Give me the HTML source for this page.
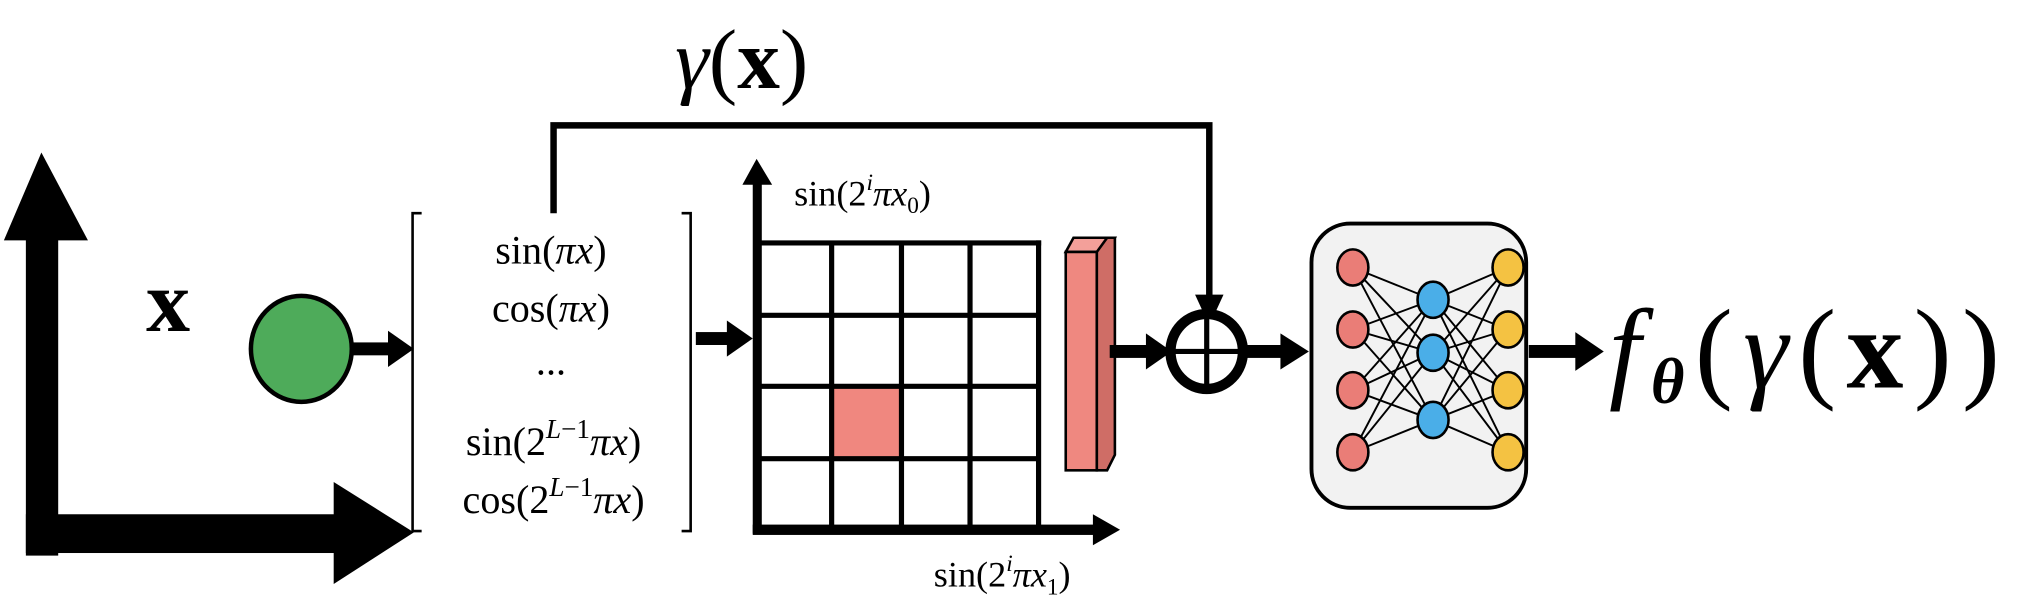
<!DOCTYPE html>
<html><head><meta charset="utf-8"><style>
html,body{margin:0;padding:0;background:#fff;}
svg{display:block;}
text{font-family:"Liberation Serif",serif;fill:#000;}
</style></head><body>
<svg width="2028" height="606" viewBox="0 0 1568 469" preserveAspectRatio="none" xmlns="http://www.w3.org/2000/svg">
<g>
  <rect x="20" y="180" width="25" height="250" fill="#000"/>
  <polygon points="32,118 3,186 68,186" fill="#000"/>
  <rect x="20" y="398" width="240" height="30" fill="#000"/>
  <polygon points="258,373 258,452 320,412" fill="#000"/>
</g>
<text x="113" y="256" font-size="68" font-weight="bold">x</text>
<ellipse cx="233" cy="270" rx="39" ry="41" fill="#4eab5a" stroke="#000" stroke-width="3.5"/>
<g>
  <rect x="272" y="265" width="30" height="10" fill="#000"/>
  <polygon points="300,256 300,284 320,270" fill="#000"/>
</g>
<g>
  <path d="M326,165 H319 V411 H326" fill="none" stroke="#000" stroke-width="2"/>
  <path d="M527,165 H534 V411 H527" fill="none" stroke="#000" stroke-width="2"/>
  <g font-size="31" text-anchor="middle">
    <text x="426" y="204">sin(<tspan font-style="italic">πx</tspan>)</text>
    <text x="426" y="249">cos(<tspan font-style="italic">πx</tspan>)</text>
    <text x="426" y="290">...</text>
    <text x="428" y="352">sin(2<tspan font-size="21" dy="-13" font-style="italic">L</tspan><tspan font-size="21">−1</tspan><tspan dy="13" font-style="italic">πx</tspan>)</text>
    <text x="428" y="397">cos(2<tspan font-size="21" dy="-13" font-style="italic">L</tspan><tspan font-size="21">−1</tspan><tspan dy="13" font-style="italic">πx</tspan>)</text>
  </g>
</g>
<g>
  <path d="M428,165 V97 H935 V240" fill="none" stroke="#000" stroke-width="5"/>
  <polygon points="924,228 946,228 935,252" fill="#000"/>
</g>
<text x="522" y="68" font-size="66"><tspan font-style="italic">γ</tspan>(<tspan font-weight="bold">x</tspan>)</text>
<g>
  <rect x="538" y="257" width="26" height="10" fill="#000"/>
  <polygon points="562,248 562,276 582,262" fill="#000"/>
</g>
<g>
  <rect x="643" y="299" width="54" height="56" fill="#f0877f"/>
  <g stroke="#000" stroke-width="4" fill="none">
    <line x1="585" y1="188" x2="805" y2="188"/>
    <line x1="585" y1="244" x2="803" y2="244"/>
    <line x1="585" y1="299" x2="803" y2="299"/>
    <line x1="585" y1="355" x2="803" y2="355"/>
    <line x1="643" y1="188" x2="643" y2="410"/>
    <line x1="697" y1="188" x2="697" y2="410"/>
    <line x1="750" y1="188" x2="750" y2="410"/>
    <line x1="803" y1="186" x2="803" y2="410"/>
  </g>
  <rect x="582" y="140" width="7" height="273" fill="#000"/>
  <polygon points="574,143 597,143 585,123" fill="#000"/>
  <rect x="582" y="406" width="265" height="8" fill="#000"/>
  <polygon points="845,398 845,422 866,410" fill="#000"/>
  <text x="614" y="159" font-size="28">sin(2<tspan font-size="18" dy="-12" font-style="italic">i</tspan><tspan dy="12" font-style="italic">πx</tspan><tspan font-size="18" dy="6">0</tspan><tspan dy="-6">)</tspan></text>
  <text x="722" y="454" font-size="28">sin(2<tspan font-size="18" dy="-12" font-style="italic">i</tspan><tspan dy="12" font-style="italic">πx</tspan><tspan font-size="18" dy="6">1</tspan><tspan dy="-6">)</tspan></text>
</g>
<g stroke="#000" stroke-width="2">
  <polygon points="824,195 830,184 862,184 856,195" fill="#f3a09a"/>
  <polygon points="848,195 856,184 862,184 862,352 856,364 848,364" fill="#cf6d66"/>
  <rect x="824" y="195" width="24" height="169" fill="#ef8880"/>
</g>
<g>
  <rect x="858" y="267" width="30" height="10" fill="#000"/>
  <polygon points="886,258 886,286 906,272" fill="#000"/>
</g>
<g>
  <ellipse cx="933" cy="272" rx="28" ry="29" fill="#fff" stroke="#000" stroke-width="8"/>
  <line x1="905" y1="272" x2="961" y2="272" stroke="#000" stroke-width="4"/>
  <line x1="933" y1="243" x2="933" y2="301" stroke="#000" stroke-width="4"/>
</g>
<g>
  <rect x="962" y="267" width="30" height="10" fill="#000"/>
  <polygon points="990,258 990,286 1012,272" fill="#000"/>
</g>
<g>
  <rect x="1014" y="173" width="166" height="220" rx="30" fill="#f2f2f2" stroke="#000" stroke-width="3"/>
  <g stroke="#000" stroke-width="1.5">
    <line x1="1046" y1="207" x2="1108" y2="232"/><line x1="1046" y1="207" x2="1108" y2="273"/><line x1="1046" y1="207" x2="1108" y2="325"/>
    <line x1="1046" y1="255" x2="1108" y2="232"/><line x1="1046" y1="255" x2="1108" y2="273"/><line x1="1046" y1="255" x2="1108" y2="325"/>
    <line x1="1046" y1="302" x2="1108" y2="232"/><line x1="1046" y1="302" x2="1108" y2="273"/><line x1="1046" y1="302" x2="1108" y2="325"/>
    <line x1="1046" y1="350" x2="1108" y2="232"/><line x1="1046" y1="350" x2="1108" y2="273"/><line x1="1046" y1="350" x2="1108" y2="325"/>
    <line x1="1108" y1="232" x2="1166" y2="207"/><line x1="1108" y1="232" x2="1166" y2="255"/><line x1="1108" y1="232" x2="1166" y2="302"/><line x1="1108" y1="232" x2="1166" y2="350"/>
    <line x1="1108" y1="273" x2="1166" y2="207"/><line x1="1108" y1="273" x2="1166" y2="255"/><line x1="1108" y1="273" x2="1166" y2="302"/><line x1="1108" y1="273" x2="1166" y2="350"/>
    <line x1="1108" y1="325" x2="1166" y2="207"/><line x1="1108" y1="325" x2="1166" y2="255"/><line x1="1108" y1="325" x2="1166" y2="302"/><line x1="1108" y1="325" x2="1166" y2="350"/>
  </g>
  <g stroke="#000" stroke-width="2">
    <ellipse cx="1046" cy="207" rx="12" ry="14" fill="#ea7d77"/><ellipse cx="1046" cy="255" rx="12" ry="14" fill="#ea7d77"/>
    <ellipse cx="1046" cy="302" rx="12" ry="14" fill="#ea7d77"/><ellipse cx="1046" cy="350" rx="12" ry="14" fill="#ea7d77"/>
    <ellipse cx="1108" cy="232" rx="12" ry="14" fill="#4aaee8"/><ellipse cx="1108" cy="273" rx="12" ry="14" fill="#4aaee8"/>
    <ellipse cx="1108" cy="325" rx="12" ry="14" fill="#4aaee8"/>
    <ellipse cx="1166" cy="207" rx="12" ry="14" fill="#f4c242"/><ellipse cx="1166" cy="255" rx="12" ry="14" fill="#f4c242"/>
    <ellipse cx="1166" cy="302" rx="12" ry="14" fill="#f4c242"/><ellipse cx="1166" cy="350" rx="12" ry="14" fill="#f4c242"/>
  </g>
</g>
<g>
  <rect x="1182" y="267" width="38" height="10" fill="#000"/>
  <polygon points="1218,257 1218,287 1240,272" fill="#000"/>
</g>
<text x="1244" y="300" font-size="88" letter-spacing="8"><tspan font-style="italic">f</tspan><tspan font-style="italic" font-weight="bold" font-size="50" dy="12">θ</tspan><tspan dy="-12">(</tspan><tspan font-style="italic">γ</tspan>(<tspan font-weight="bold">x</tspan>))</text>
</svg>
</body></html>
